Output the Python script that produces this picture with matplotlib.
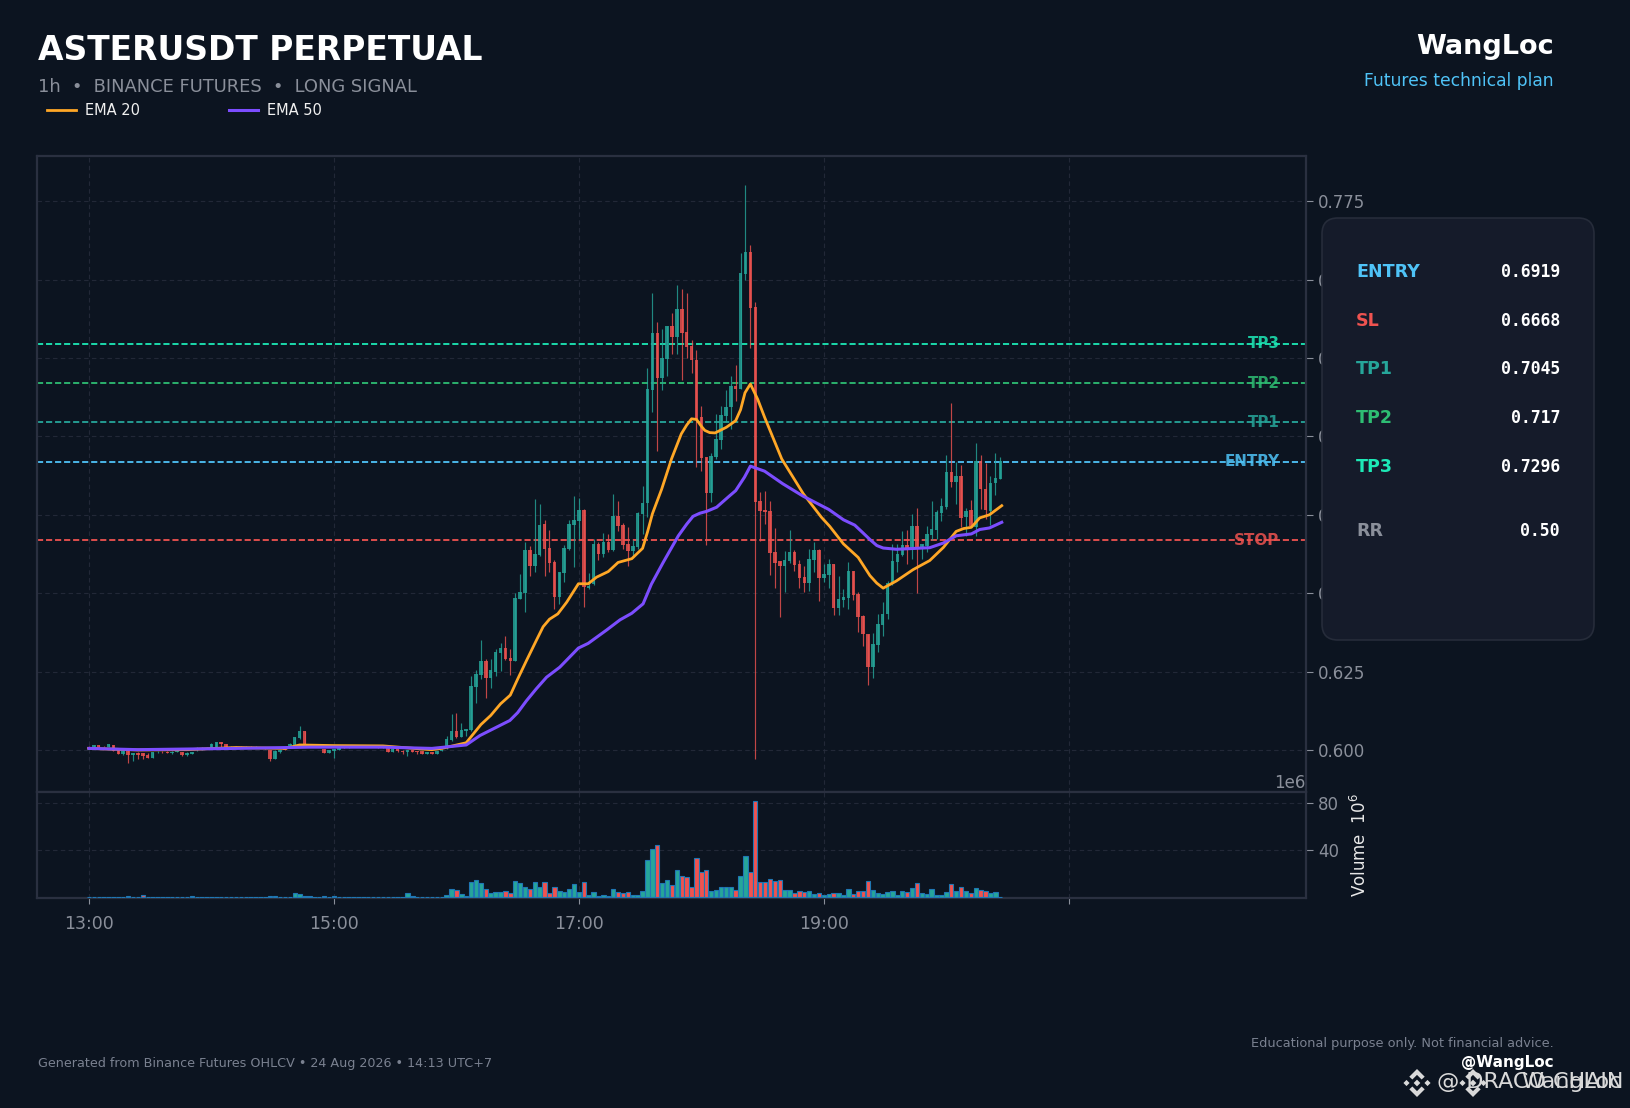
import matplotlib
matplotlib.use("Agg")
import matplotlib.pyplot as plt
from matplotlib.lines import Line2D
from matplotlib.patches import FancyBboxPatch, Polygon
from matplotlib.ticker import ScalarFormatter
from matplotlib.transforms import IdentityTransform

# velas (precio)
opens = [.6009,.6007,.6015,.6011,.6011,.6015,.5999,.5987,.5999,.5985,.5990,.5989,.5985,.5975,.5992,.5994,.5995,.5990,.5995,.5992,
         .5984,.5987,.5999,.6001,.6003,.6005,.6011,.6024,.6019,.6008,.6011,.6011,.6008,.6011,.6008,.6007,.6008,.5999,.5971,.5992,
         .6008,.6009,.6016,.6037,.6060,.6018,.6011,.6016,.6003,.5991,.5997,.6001,.6011,.6008,.6011,.6009,.6011,.6009,.6012,.6011,
         .6008,.6005,.5994,.6003,.5998,.5992,.5999,.5997,.5996,.5987,.5992,.5987,.5997,.6007,.6033,.6061,.6041,.6061,.6064,.6201,
         .6239,.6285,.6230,.6249,.6309,.6324,.6293,.6285,.6483,.6501,.6638,.6588,.6623,.6721,.6644,.6600,.6489,.6564,.6642,.6718,
         .6730,.6765,.6516,.6530,.6657,.6626,.6663,.6638,.6746,.6718,.6657,.6635,.6646,.6754,.6788,.7149,.7330,.7186,.7247,.7351,
         .7318,.7407,.7333,.7289,.7244,.7062,.6935,.6820,.6935,.6989,.7065,.7094,.7161,.7151,.7518,.7588,.7413,.6793,.6764,.6761,
         .6630,.6603,.6587,.6603,.6630,.6593,.6552,.6532,.6606,.6638,.6548,.6558,.6593,.6453,.6478,.6485,.6571,.6497,.6427,.6370,
         .6265,.6335,.6399,.6434,.6529,.6599,.6622,.6654,.6641,.6714,.6641,.6650,.6687,.6703,.6756,.6776,.6887,.6856,.6873,.6744,
         .6766,.6711,.6922,.6833,.6761,.6850,.6865]
closes = [.6003,.6015,.6009,.6010,.6018,.5997,.5987,.5997,.5984,.5990,.5984,.5982,.5975,.5993,.5994,.5992,.5991,.5995,.5999,.5983,
          .5990,.5994,.6003,.6005,.6007,.6020,.6024,.6018,.6009,.6011,.6009,.6008,.6011,.6009,.6011,.6009,.6005,.5971,.5998,.5999,
          .6001,.6019,.6041,.6061,.6016,.6011,.6018,.6011,.5990,.5999,.6003,.6005,.6008,.6011,.6009,.6011,.6009,.6012,.6009,.6008,
          .6010,.5994,.6003,.5997,.5994,.5999,.5994,.5992,.5987,.5993,.5987,.5997,.6001,.6035,.6061,.6041,.6064,.6067,.6204,.6242,
          .6284,.6231,.6255,.6313,.6324,.6291,.6284,.6485,.6504,.6638,.6588,.6625,.6718,.6642,.6597,.6488,.6568,.6645,.6721,.6733,
          .6765,.6520,.6524,.6657,.6625,.6663,.6637,.6746,.6714,.6654,.6635,.6651,.6756,.6788,.7151,.7330,.7185,.7249,.7351,.7318,
          .7407,.7331,.7285,.7242,.7056,.6931,.6820,.6938,.6992,.7068,.7094,.7161,.7151,.7521,.7588,.7410,.6792,.6763,.6759,.6629,
          .6597,.6587,.6606,.6630,.6590,.6548,.6532,.6609,.6638,.6548,.6561,.6593,.6453,.6481,.6488,.6571,.6494,.6424,.6370,.6265,
          .6338,.6402,.6434,.6532,.6603,.6625,.6654,.6641,.6714,.6641,.6657,.6689,.6705,.6760,.6778,.6887,.6854,.6873,.6740,.6763,
          .6714,.6923,.6831,.6764,.6852,.6868,.6921]
highs = [.6012,.6017,.6017,.6013,.6018,.6015,.5999,.5999,.5999,.5991,.5992,.5990,.5989,.5993,.5996,.5997,.5997,.5997,.6001,.5994,
         .5993,.5995,.6011,.6009,.6008,.6021,.6026,.6027,.6020,.6013,.6012,.6013,.6013,.6013,.6012,.6010,.6009,.6000,.5999,.6000,
         .6009,.6021,.6042,.6075,.6061,.6019,.6019,.6017,.6003,.6000,.6004,.6006,.6012,.6012,.6013,.6013,.6013,.6013,.6013,.6012,
         .6011,.6006,.6005,.6004,.5999,.6000,.6000,.5998,.5997,.5994,.5993,.5998,.6003,.6046,.6115,.6117,.6085,.6067,.6235,.6256,
         .6351,.6290,.6290,.6322,.6340,.6365,.6322,.6500,.6560,.6663,.6652,.6799,.6784,.6733,.6703,.6605,.6568,.6654,.6733,.6810,
         .6804,.6769,.6563,.6673,.6662,.6692,.6689,.6816,.6793,.6724,.6710,.6668,.6758,.6841,.7217,.7456,.7364,.7343,.7351,.7394,
         .7483,.7469,.7456,.7306,.7275,.7096,.6935,.6948,.7071,.7096,.7148,.7192,.7228,.7585,.7802,.7610,.7428,.6822,.6827,.6795,
         .6709,.6603,.6636,.6701,.6638,.6606,.6587,.6641,.6662,.6641,.6593,.6609,.6593,.6554,.6512,.6598,.6571,.6503,.6431,.6370,
         .6373,.6434,.6471,.6539,.6657,.6657,.6699,.6701,.6752,.6771,.6657,.6715,.6794,.6764,.6803,.6941,.7106,.6918,.6910,.6771,
         .6797,.6979,.6941,.6916,.6873,.6948,.6934]
lows = [.6002,.6006,.6008,.6009,.6010,.5996,.5986,.5985,.5960,.5966,.5971,.5970,.5975,.5975,.5990,.5990,.5990,.5988,.5994,.5982,
        .5981,.5986,.5998,.6000,.6002,.6004,.6009,.6011,.6008,.6007,.6008,.6007,.6007,.6008,.6007,.6006,.6004,.5964,.5970,.5989,
        .6000,.6008,.6015,.6036,.6015,.6010,.6010,.6010,.5989,.5990,.5975,.6000,.6007,.6007,.6008,.6008,.6008,.6008,.6008,.6007,
        .6007,.5993,.5993,.5995,.5988,.5981,.5992,.5988,.5986,.5986,.5986,.5986,.5996,.6003,.6030,.6039,.6040,.6044,.6062,.6149,
        .6226,.6165,.6199,.6235,.6253,.6288,.6240,.6284,.6482,.6441,.6554,.6569,.6620,.6554,.6567,.6449,.6465,.6535,.6639,.6583,
        .6673,.6455,.6512,.6526,.6607,.6614,.6632,.6636,.6698,.6641,.6588,.6620,.6641,.6689,.6744,.7079,.6952,.7149,.7192,.7262,
        .7263,.7181,.7251,.7203,.6902,.6889,.6655,.6792,.6928,.6960,.7045,.7024,.7112,.7151,.7500,.7283,.5971,.6665,.6721,.6559,
        .6515,.6425,.6505,.6596,.6570,.6515,.6505,.6508,.6569,.6474,.6537,.6515,.6430,.6431,.6455,.6450,.6479,.6377,.6330,.6208,
        .6229,.6311,.6362,.6419,.6526,.6569,.6620,.6593,.6609,.6501,.6609,.6630,.6670,.6674,.6729,.6769,.6837,.6784,.6711,.6682,
        .6711,.6682,.6769,.6737,.6716,.6814,.6863]

# volumen en millones
volumes_m = [.3,.3,.3,.3,.3,.3,.3,.3,1.2,.3,.3,1.8,.3,.3,.3,.3,.3,.3,.3,.3,.3,1.2,.3,.3,.3,.3,.3,.3,.3,.3,
             0,.3,.3,.3,.3,.3,.3,.8,.8,.3,.3,.3,3.7,2.8,1.2,1.2,.6,.3,1.2,.3,1.2,.3,.3,.3,.3,.3,.3,.3,.3,.3,
             .3,.3,.3,.3,.3,3.7,1.2,.3,.3,.3,.3,.5,.5,1.7,6.8,6,2.6,.9,12.8,14.5,11.9,6.8,3.4,4.3,4.3,5.1,3.4,13.6,11.9,8.5,
             6.8,12.8,8.5,12.8,3.4,8.5,5.1,4.3,6.8,11.1,4.3,12.8,1.7,4.3,.9,1.7,.9,6.8,4.3,3.4,4.3,1.7,1.7,5.1,31.5,40.9,44.3,11.9,14.5,10.2,
             23,17.9,17,8.5,33.2,21.3,23,5.1,6,8.5,8.5,8.5,6,17.9,34.9,21.3,81.7,12.8,12.8,15.3,13.6,14.5,6,6,3.4,5.1,4.3,5.1,2.6,3.4,
             1.7,2.6,3.4,3.4,1.7,6.8,2.6,5.1,5.1,13.6,6,3.4,2.6,4.3,5.1,1.7,5.1,4.3,7.7,11.9,3.4,2.6,6.8,1.7,1.7,4.3,11.1,5.1,8.5,5.1,
             3.4,7.7,6,5.1,3.4,4.3,.3]

ema20_idx = [0,10,20,30,40,43,50,60,68,70,72,77,78.5,80,82,84,86,87.5,89.3,91.3,92.7,94,95.7,97.5,99.9,101.9,103.6,106,108,110.8,
             113,114,115,116.9,118.9,120.9,122,123,124,125,125.7,126.7,127.8,130.1,132,133,133.9,135,136.5,137.9,141.4,145.8,149.5,151.2,154,157,
             159.4,160.8,162.1,164.8,168.2,171.6,174.4,177,178.5,180.1,181.8,183.8,186.3]
ema20_val = [.6005,.6000,.6001,.6008,.6005,.6016,.6014,.6013,.6003,.6001,.6005,.6023,.6052,.6081,.6110,.6147,.6175,.6226,.6285,.6349,
             .6393,.6417,.6434,.6471,.6530,.6530,.6551,.6569,.6598,.6610,.6643,.6695,.6753,.6832,.6928,.7008,.7036,.7056,.7054,.7032,.7019,
             .7012,.7011,.7029,.7050,.7085,.7139,.7167,.7118,.7061,.6928,.6817,.6742,.6713,.6657,.6614,.6556,.6532,.6516,.6539,.6575,.6604,
             .6646,.6697,.6706,.6710,.6740,.6750,.6779]
ema50_idx = [0,10,30,45,60,70,77,79.8,85.9,87.5,89.3,91.3,93.4,96.1,99.9,101.9,105.7,108.4,110.8,113.1,114.8,117.2,120.3,122,123.3,
             124.7,126.1,128.1,130.8,132,133.8,135,137.9,141.6,145.8,151,154,156.3,158,159.4,160.8,162.1,164.8,171.6,174.4,177,180.1,181.8,183.8,186.3]
ema50_val = [.6005,.6001,.6005,.6009,.6009,.6005,.6016,.6046,.6094,.6119,.6157,.6195,.6232,.6264,.6325,.6340,.6383,.6415,.6436,.6466,
             .6529,.6598,.6683,.6720,.6745,.6755,.6761,.6774,.6811,.6827,.6870,.6905,.6889,.6849,.6809,.6767,.6734,.6717,.6692,.6671,.6652,.6644,.6640,
             .6645,.6660,.6683,.6689,.6703,.6708,.6726]

# niveles
level_names = ["ENTRY", "SL", "TP1", "TP2", "TP3"]
level_tags = ["ENTRY", "STOP", "TP1", "TP2", "TP3"]
level_values = [0.6919, 0.6668, 0.7045, 0.717, 0.7296]
level_texts = ["0.6919", "0.6668", "0.7045", "0.717", "0.7296"]
level_colors = ["#4fc3f7", "#ef5350", "#26a69a", "#2ebd73", "#1de9b6"]
rr_text = "0.50"

price_ticks = [0.6, 0.625, 0.65, 0.675, 0.7, 0.725, 0.75, 0.775]
x_ticks = [0, 50, 100, 150, 200]
x_labels = ["13:00", "15:00", "17:00", "19:00", ""]

W, H = 1631, 1108
BG = "#0c1420"
UP = "#26a69a"
DOWN = "#ef5350"
SPINE = "#2a3040"
GRID = "#2a3040"
TICK = "#8a8f9a"


def fx(x):
    return x / W


def fy(y):
    return 1 - y / H


fig = plt.figure(figsize=(W / 100, H / 100), dpi=100, facecolor=BG)
ax = fig.add_axes([fx(37), fy(792), fx(1306 - 37), (792 - 156) / H], facecolor=BG)
ax_vol = fig.add_axes([fx(37), fy(898), fx(1306 - 37), (898 - 792) / H], facecolor=BG, sharex=ax)

x = list(range(len(closes)))
colors = [UP if c >= o else DOWN for o, c in zip(opens, closes)]

# velas
ax.vlines(x, lows, highs, colors=colors, linewidth=0.85, alpha=0.8, zorder=3)
bottoms = [min(o, c) for o, c in zip(opens, closes)]
heights = [abs(c - o) for o, c in zip(opens, closes)]
ax.bar(x, heights, bottom=bottoms, width=0.72, color=colors, alpha=0.82, linewidth=0, zorder=3)

ax.plot(ema20_idx, ema20_val, color="#ffa726", linewidth=2.0, solid_joinstyle="round", zorder=4)
ax.plot(ema50_idx, ema50_val, color="#7c4dff", linewidth=2.2, solid_joinstyle="round", zorder=5)

# niveles y etiquetas
for tag, val, col in zip(level_tags, level_values, level_colors):
    ax.axhline(val, color=col, linestyle=(0, (3.4, 1.6)), linewidth=1.3, zorder=2)
    ax.text(243, val, tag, color=col, fontsize=10.9, fontweight="bold", ha="right", va="center", alpha=0.85, zorder=1.5)

ax.set_xlim(-10.6, 248.4)
ax.set_ylim(0.5866, 0.7894)
ax.set_yticks(price_ticks)
ax.set_yticklabels(["%.3f" % t for t in price_ticks])
ax.yaxis.tick_right()
ax.tick_params(axis="y", colors=TICK, labelsize=12, length=5, pad=3.5)
ax.tick_params(axis="x", length=0, labelbottom=False)
ax.set_xticks(x_ticks)

# volumen
vols = [v * 1e6 for v in volumes_m]
ax_vol.bar(x, vols, width=0.9, color=colors, edgecolor="#1f77b4", linewidth=0.8, zorder=3)
ax_vol.set_ylim(-0.6e6, 89.3e6)
ax_vol.set_yticks([40e6, 80e6])
vol_fmt = ScalarFormatter()
vol_fmt.set_powerlimits((6, 6))
ax_vol.yaxis.set_major_formatter(vol_fmt)
ax_vol.yaxis.tick_right()
ax_vol.yaxis.set_label_position("right")
ax_vol.set_ylabel("Volume  $10^{6}$", color="#e8e8e8", fontsize=12, labelpad=8)
ax_vol.yaxis.get_offset_text().set_color(TICK)
ax_vol.yaxis.get_offset_text().set_fontsize(12)
ax_vol.tick_params(axis="y", colors=TICK, labelsize=12, length=5, pad=3.5)
ax_vol.set_xticks(x_ticks)
ax_vol.set_xticklabels(x_labels)
ax_vol.tick_params(axis="x", colors=TICK, labelsize=12.5, length=4, pad=8)

for a in (ax, ax_vol):
    a.grid(True, color=GRID, linestyle=(0, (4, 3)), linewidth=0.8, alpha=0.75, zorder=0)
    a.set_axisbelow(True)
    for s in a.spines.values():
        s.set_color(SPINE)
        s.set_linewidth(1.6)

# encabezado
fig.text(fx(38), fy(50), "ASTERUSDT PERPETUAL", color="white", fontsize=23.8, fontweight="bold", va="center")
fig.text(fx(38), fy(87), "1h  \u2022  BINANCE FUTURES  \u2022  LONG SIGNAL", color=TICK, fontsize=12.9, va="center")
fig.text(fx(1554), fy(47), "WangLoc", color="white", fontsize=19.5, fontweight="bold", ha="right", va="center")
fig.text(fx(1554), fy(81), "Futures technical plan", color="#4fc3f7", fontsize=12.3, ha="right", va="center")

handles = [Line2D([], [], color="#ffa726", linewidth=2), Line2D([], [], color="#7c4dff", linewidth=2.2)]
fig.legend(handles, ["EMA 20", "EMA 50"], loc="upper left", bbox_to_anchor=(fx(34), fy(90)), ncol=2, frameon=False,
           fontsize=10.5, labelcolor="#f0f0f0", handlelength=2.0, handletextpad=0.6, columnspacing=6.1)

# panel de niveles
panel = FancyBboxPatch((1322 + 14, H - 640 + 14), 272 - 28, 422 - 28, boxstyle="round,pad=14,rounding_size=16",
                       transform=IdentityTransform(), facecolor="#151b2a", edgecolor="#262c3a", linewidth=1.2, zorder=5)
fig.add_artist(panel)
rows_y = [272, 321, 369, 418, 467]
for name, txt, col, ry in zip(level_names, level_texts, level_colors, rows_y):
    fig.text(fx(1356), fy(ry), name, color=col, fontsize=12.6, fontweight="bold", va="center", zorder=6)
    fig.text(fx(1560), fy(ry), txt, color="white", fontsize=11.9, fontweight="bold", family="DejaVu Sans Mono",
             ha="right", va="center", zorder=6)
fig.text(fx(1356), fy(531), "RR", color=TICK, fontsize=12.6, fontweight="bold", va="center", zorder=6)
fig.text(fx(1560), fy(531), rr_text, color="white", fontsize=11.9, fontweight="bold", family="DejaVu Sans Mono",
         ha="right", va="center", zorder=6)

# pie
fig.text(fx(38), fy(1064), "Generated from Binance Futures OHLCV \u2022 24 Aug 2026 \u2022 14:13 UTC+7", color="#7a8190", fontsize=9.23, va="center")
fig.text(fx(1554), fy(1043), "Educational purpose only. Not financial advice.", color="#7a8190", fontsize=9.25, ha="right", va="center")
fig.text(fx(1554), fy(1063), "@WangLoc", color="white", fontsize=11, fontweight="bold", ha="right", va="center")


# marca de agua: logo y texto superpuestos
def logo(cx, cy, r, col="#d9d9d9"):
    y = H - cy
    top = [(0, 1), (0.55, 0.45), (0.33, 0.25), (0, 0.58), (-0.33, 0.25), (-0.55, 0.45)]
    shapes = [top, [(a, -b) for a, b in top]]
    for dx, d in [(0, 0.24), (-0.75, 0.22), (0.75, 0.22)]:
        shapes.append([(dx - d, 0), (dx, d), (dx + d, 0), (dx, -d)])
    for pts in shapes:
        fig.add_artist(Polygon([(cx + a * r, y + b * r) for a, b in pts], closed=True, facecolor=col,
                               edgecolor="none", transform=IdentityTransform(), zorder=7))


logo(1417, 1083, 14)
logo(1473, 1083, 14)
fig.text(fx(1437), fy(1082), "@ DRACO CHAIN", color="#d9d9d9", fontsize=16, va="center", zorder=7)
fig.text(fx(1622), fy(1082), "WangLoc", color="#d9d9d9", fontsize=16, ha="right", va="center", zorder=7)

fig.savefig("out.png", dpi=100, facecolor=BG)
